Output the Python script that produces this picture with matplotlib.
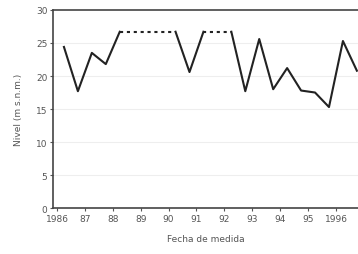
import numpy as np
import matplotlib
matplotlib.use("Agg")
import matplotlib.pyplot as plt

# Data (semi-annual measurements); None = no measurement
dates = [1986.25, 1986.75, 1987.25, 1987.75, 1988.25, 1988.75, 1989.25, 1989.75,
         1990.25, 1990.75, 1991.25, 1991.75, 1992.25, 1992.75, 1993.25, 1993.75,
         1994.25, 1994.75, 1995.25, 1995.75, 1996.25, 1996.75]
levels = [24.4, 17.7, 23.5, 21.8, 26.7, None, None, None,
          26.7, 20.6, 26.7, None, 26.7, 17.7, 25.6, 18.0,
          21.2, 17.8, 17.5, 15.3, 25.3, 20.8]
tick_years = [1986, 1987, 1988, 1989, 1990, 1991, 1992, 1993, 1994, 1995, 1996]
tick_labels = ["1986", "87", "88", "89", "90", "91", "92", "93", "94", "95", "1996"]
y_ticks = [0, 5, 10, 15, 20, 25, 30]

x = np.array(dates, dtype=float)
y = np.array([np.nan if v is None else v for v in levels], dtype=float)

fig = plt.figure(figsize=(3.58, 2.55), dpi=100)
ax = fig.add_axes([0.148, 0.180, 0.852, 0.777])

# faint grid
for t in y_ticks[1:-1]:
    ax.axhline(t, color="#eeeeee", lw=0.8, zorder=0)

# dashed bridges across gaps
valid = ~np.isnan(y)
idx = np.where(valid)[0]
for a, b in zip(idx[:-1], idx[1:]):
    if b - a > 1:
        ax.plot([x[a], x[b]], [y[a], y[b]], color="#222222", lw=1.5,
                linestyle=(0, (1.5, 1.8)), zorder=2)

ax.plot(x, y, color="#222222", lw=1.5, zorder=3)

ax.set_xlim(1985.857, 1996.79)
ax.set_ylim(0, 30)
ax.set_xticks(tick_years)
ax.set_xticklabels(tick_labels)
ax.set_yticks(y_ticks)
ax.spines["right"].set_visible(False)
for s in ["left", "bottom", "top"]:
    ax.spines[s].set_color("#444444")
    ax.spines[s].set_linewidth(1.2)
ax.tick_params(axis="both", labelsize=6.5, colors="#555555", length=2, width=0.8, pad=2)
ax.set_xlabel("Fecha de medida", fontsize=6.5, color="#555555", labelpad=8)
ax.set_ylabel("Nivel (m s.n.m.)", fontsize=6.5, color="#555555", labelpad=9)

fig.savefig("out.png", dpi=100)
